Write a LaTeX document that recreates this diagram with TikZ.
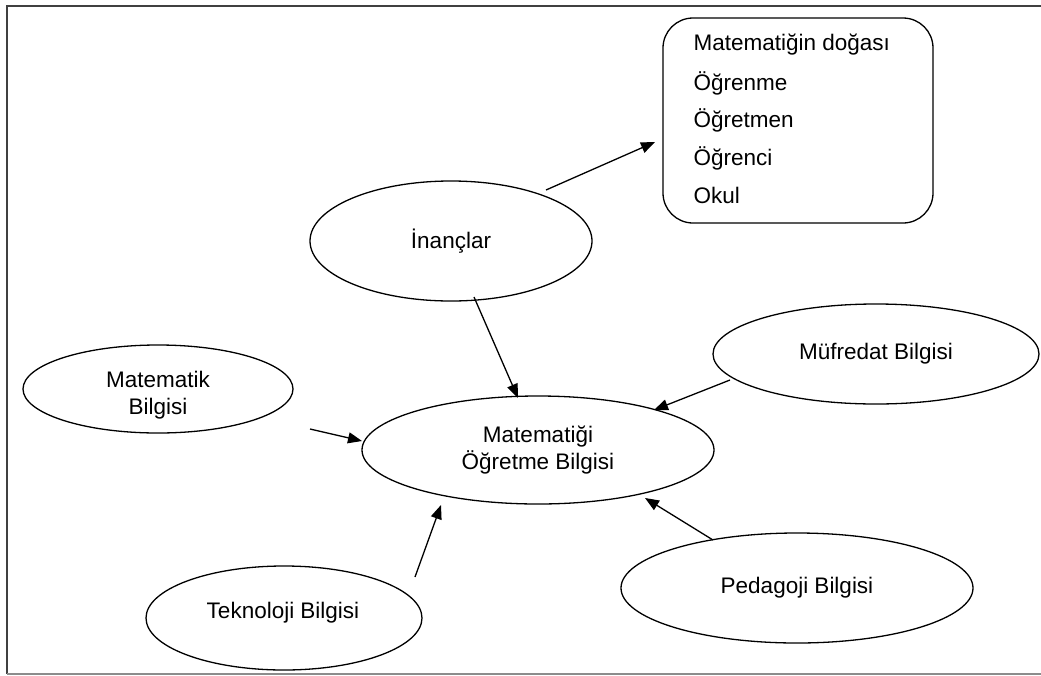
\documentclass[tikz,border=0pt]{standalone}
\usepackage{fontspec}
\setmainfont{Liberation Sans}
\usetikzlibrary{arrows.meta,shapes.geometric}
\begin{document}
\begin{tikzpicture}[x=1pt,y=-1pt,
  every node/.style={font=\fontsize{22.5}{27}\selectfont},
  oval/.style={draw, line width=1.3pt, ellipse, inner sep=0pt},
  conn/.style={line width=1.3pt, -{Triangle[length=14pt,width=11pt]}},
  frameline/.style={line width=1.5pt, draw=black!75}]
\useasboundingbox (0,0) rectangle (1041,675);
% frame
\draw[frameline] (1041,6) -- (7,6) -- (7,674);
\draw[line width=1.5pt, draw=black!45] (7,674) -- (1041,674);
% ellipses
\node[oval, minimum width=282pt, minimum height=120pt] (inan) at (451,241) {İnançlar};
\node[oval, minimum width=352pt, minimum height=108pt, align=center] (mob) at (538,450) {Matematiği\\Öğretme Bilgisi};
\node[oval, minimum width=326pt, minimum height=100pt] (muf) at (876,354) {Müfredat Bilgisi};
\node[oval, minimum width=270pt, minimum height=88pt] (mat) at (158,389) {};
\node[align=center] (matt) at (158,395) {Matematik\\Bilgisi};
\node[oval, minimum width=276pt, minimum height=104pt] (tek) at (284,618) {};
\node (tekt) at (283,613) {Teknoloji Bilgisi};
\node[oval, minimum width=352pt, minimum height=110pt] (ped) at (797,588) {Pedagoji Bilgisi};
% rounded box
\draw[line width=1.3pt, rounded corners=30pt] (663,18) rectangle (933,223);
\node[anchor=west] (b1) at (690,45) {Matematiğin doğası};
\node[anchor=west] (b2) at (690,83) {Öğrenme};
\node[anchor=west] (b3) at (690,120) {Öğretmen};
\node[anchor=west] (b4) at (690,158) {Öğrenci};
\node[anchor=west] (b5) at (690,195) {Okul};
\coordinate (box) at (655,142);
% connector coordinates
\coordinate (inanA) at (546,190);
\coordinate (inanB) at (474,297);
\coordinate (mobT) at (518,398);
\coordinate (mufA) at (730,380);
\coordinate (mobR) at (654,410);
\coordinate (matA) at (310,429);
\coordinate (mobL) at (362,441);
\coordinate (tekA) at (415,577);
\coordinate (mobB) at (441,505);
\coordinate (pedA) at (713,540);
\coordinate (mobBR) at (645,498);
\draw[conn] (inanA) -- (box);
\draw[conn] (inanB) -- (mobT);
\draw[conn] (mufA) -- (mobR);
\draw[conn] (matA) -- (mobL);
\draw[conn] (tekA) -- (mobB);
\draw[conn] (pedA) -- (mobBR);
\end{tikzpicture}
\end{document}
